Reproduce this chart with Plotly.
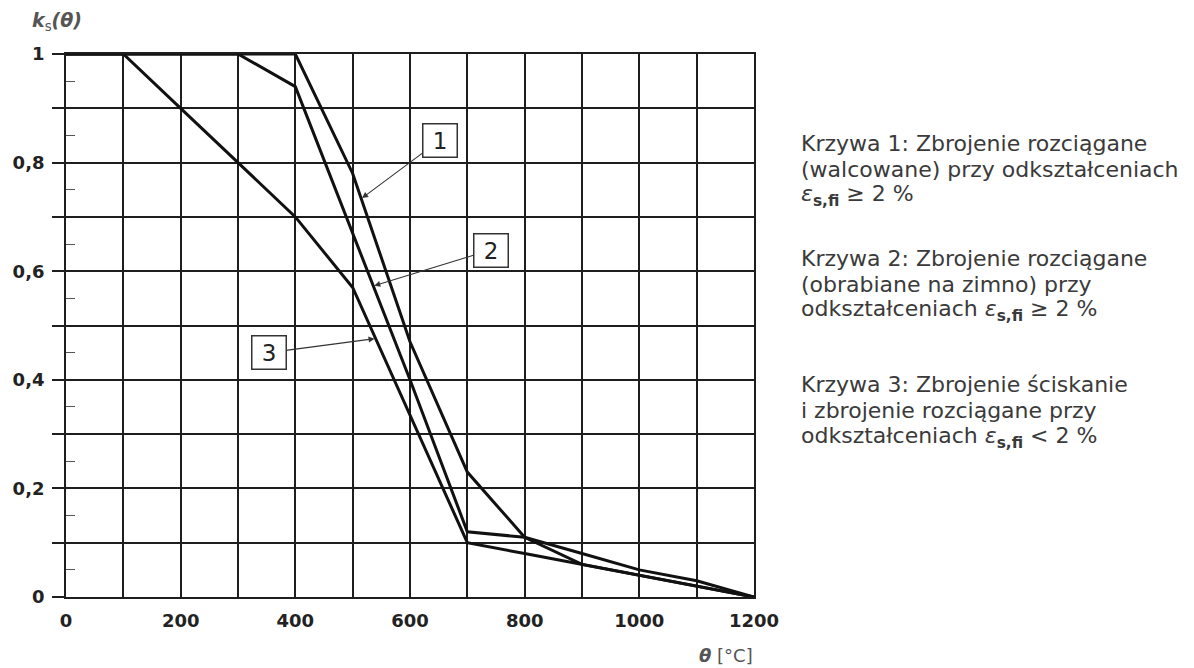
import numpy as np
import plotly.graph_objects as go

# ---- data ----
theta_1 = [0, 400, 500, 600, 700, 800, 900, 1000, 1100, 1200]
ks_1 = [1.0, 1.0, 0.78, 0.47, 0.23, 0.11, 0.06, 0.04, 0.02, 0.0]

theta_2 = [0, 300, 400, 500, 600, 700, 800, 900, 1000, 1100, 1200]
ks_2 = [1.0, 1.0, 0.94, 0.67, 0.40, 0.12, 0.11, 0.08, 0.05, 0.03, 0.0]

theta_3 = [0, 100, 200, 300, 400, 500, 600, 700, 800, 900, 1000, 1100, 1200]
ks_3 = [1.0, 1.0, 0.90, 0.80, 0.70, 0.57, 0.335, 0.10, 0.08, 0.06, 0.04, 0.02, 0.0]

x_tickvals = [0, 200, 400, 600, 800, 1000, 1200]
x_ticktext = ["0", "200", "400", "600", "800", "1000", "1200"]
x_grid_step = 100
y_tickvals = [0.0, 0.2, 0.4, 0.6, 0.8, 1.0]
y_ticktext = ["0", "0,2", "0,4", "0,6", "0,8", "1"]
y_grid_step = 0.1
y_small_ticks = [0.05, 0.15, 0.25, 0.35, 0.45, 0.55, 0.65, 0.75, 0.85, 0.95]

legend_lines = [
    ["Krzywa 1: Zbrojenie rozciągane",
     "(walcowane) przy odkształceniach",
     "<i>ε</i><sub><b>s,fi</b></sub> ≥ 2 %"],
    ["Krzywa 2: Zbrojenie rozciągane",
     "(obrabiane na zimno) przy",
     "odkształceniach <i>ε</i><sub><b>s,fi</b></sub> ≥ 2 %"],
    ["Krzywa 3: Zbrojenie ściskanie",
     "i zbrojenie rozciągane przy",
     "odkształceniach <i>ε</i><sub><b>s,fi</b></sub> < 2 %"],
]

curve_labels = ["1", "2", "3"]
label_pos = [(652.4, 0.8416), (740.8, 0.639), (353.6, 0.450)]
arrow_head_x = [515, 536, 540]

# ---- figure ----
fig = go.Figure()
line_style = dict(color="#111111", width=3)
for th, ks in [(theta_1, ks_1), (theta_2, ks_2), (theta_3, ks_3)]:
    fig.add_trace(go.Scatter(x=th, y=ks, mode="lines", line=line_style,
                             showlegend=False, hoverinfo="skip"))
# invisible trace on the secondary y axis (carries the small inside ticks)
fig.add_trace(go.Scatter(x=[0], y=[0], yaxis="y2", mode="markers",
                         marker=dict(opacity=0), showlegend=False, hoverinfo="skip"))

L, T, PW, PH = 66, 54, 688, 543

def px_to_paper(px, py):
    return (px - L) / PW, (T + PH - py) / PH

grid_col = "#1e1e1e"
fig.update_layout(
    xaxis=dict(
        range=[0, 1200], tickvals=x_tickvals, ticktext=x_ticktext,
        showgrid=True, gridcolor=grid_col, gridwidth=1.6, zeroline=False,
        showline=True, linecolor=grid_col, linewidth=1.8, mirror=True,
        ticks="", tickfont=dict(family="DejaVu Sans", size=18, color="#222222", weight="bold"),
        ticklabelstandoff=6,
        minor=dict(dtick=x_grid_step, tick0=0, showgrid=True, gridcolor=grid_col,
                   gridwidth=1.6, ticks=""),
    ),
    yaxis=dict(
        range=[0, 1], tickvals=y_tickvals, ticktext=y_ticktext,
        showgrid=True, gridcolor=grid_col, gridwidth=1.6, zeroline=False,
        showline=True, linecolor=grid_col, linewidth=1.8, mirror=True,
        ticks="outside", ticklen=12, tickwidth=1.6, tickcolor=grid_col,
        ticklabelstandoff=4,
        tickfont=dict(family="DejaVu Sans", size=18, color="#222222", weight="bold"),
        minor=dict(dtick=y_grid_step, tick0=0, ticks="outside", ticklen=12, tickwidth=1.6,
                   tickcolor=grid_col, showgrid=True, gridcolor=grid_col, gridwidth=1.6),
    ),
    yaxis2=dict(
        range=[0, 1], overlaying="y", side="left", tickvals=y_small_ticks,
        ticks="inside", ticklen=9, tickwidth=1, tickcolor="#555555",
        showticklabels=False, showgrid=False, zeroline=False, showline=False,
    ),
)

annotations = []
# axis labels
x0, y0 = px_to_paper(30, 21)
annotations.append(dict(xref="paper", yref="paper", x=x0, y=y0, xanchor="left", yanchor="middle",
                        text="<b><i>k</i></b><sub>s</sub><b><i>(θ)</i></b>", showarrow=False,
                        font=dict(family="DejaVu Sans", size=19, color="#555555")))
x0, y0 = px_to_paper(755, 655)
annotations.append(dict(xref="paper", yref="paper", x=x0, y=y0, xanchor="right", yanchor="middle",
                        text="<b><i>θ</i></b> [°C]", showarrow=False,
                        font=dict(family="DejaVu Sans", size=18, color="#555555")))

# legend text on the right
block_y = [[143, 169, 195], [258, 284, 310], [384, 410, 437]]
for lines, ys in zip(legend_lines, block_y):
    for txt, py in zip(lines, ys):
        x0, y0 = px_to_paper(799, py)
        annotations.append(dict(xref="paper", yref="paper", x=x0, y=y0, xanchor="left",
                                yanchor="middle", text=txt, showarrow=False,
                                font=dict(family="DejaVu Sans", size=22, color="#3a3a3a")))

# boxed curve labels with arrows pointing at the curves
curves = [(theta_1, ks_1), (theta_2, ks_2), (theta_3, ks_3)]
for lab, (bx, by), (th, ks), hx in zip(curve_labels, label_pos, curves, arrow_head_x):
    hy = float(np.interp(hx, th, ks))
    annotations.append(dict(xref="x", yref="y", x=hx, y=hy, ax=bx, ay=by,
                            axref="x", ayref="y", text=lab, showarrow=True,
                            arrowhead=2, arrowsize=1.1, arrowwidth=1.1,
                            arrowcolor="#333333", standoff=1,
                            width=31, height=30, borderpad=1, borderwidth=1.5,
                            bordercolor="#333333", bgcolor="white",
                            font=dict(family="DejaVu Sans", size=23, color="#222222")))

fig.update_layout(
    width=1194, height=668,
    margin=dict(l=L, r=1194 - L - PW, t=T, b=668 - T - PH, autoexpand=False),
    paper_bgcolor="white", plot_bgcolor="white",
    annotations=annotations, showlegend=False,
)

fig.write_html("out.html")
